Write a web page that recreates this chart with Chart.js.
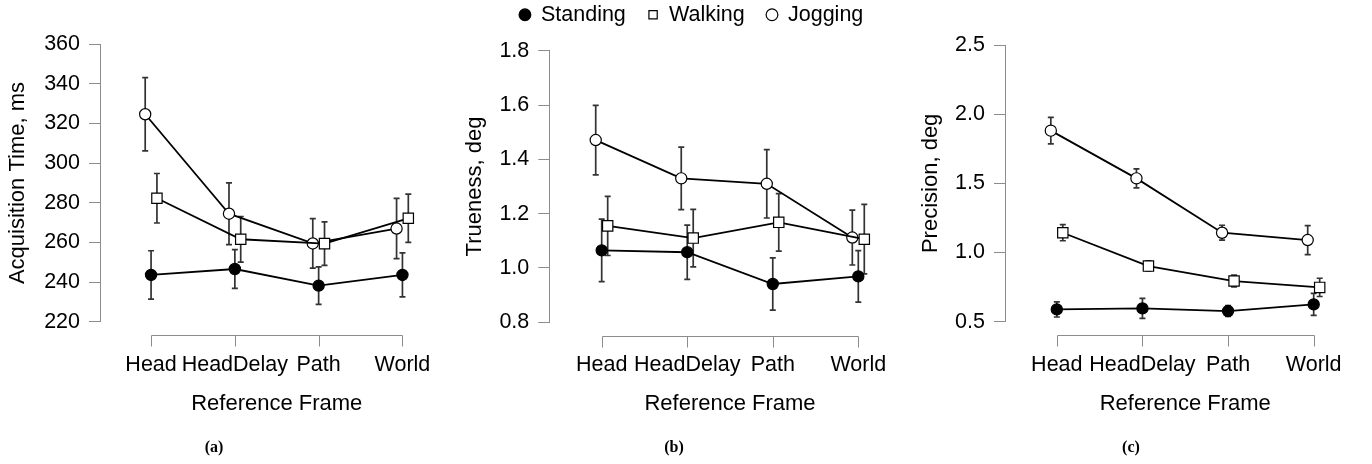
<!DOCTYPE html>
<html>
<head>
<meta charset="utf-8">
<script src="https://cdn.jsdelivr.net/npm/chart.js@4.4.1/dist/chart.umd.min.js"></script>
<style>
  html, body { margin: 0; padding: 0; background: #fff; width: 1372px; height: 464px; overflow: hidden; position: relative; }
  canvas { position: absolute; }
  .cap { position: absolute; top: 447px; transform: translate(-50%, -50%); font: bold 16px "Liberation Serif", "DejaVu Serif", serif; color: #000; }
</style>
</head>
<body>
<canvas id="chartA" width="462" height="464" style="left:0px;top:0px"></canvas>
<canvas id="chartB" width="470" height="482" style="left:457px;top:-18px"></canvas>
<canvas id="chartC" width="460" height="464" style="left:914px;top:0px"></canvas>
<div class="cap" style="left:214px">(a)</div>
<div class="cap" style="left:674px">(b)</div>
<div class="cap" style="left:1131px">(c)</div>
<script>
// categories and series
const frames = ['Head', 'HeadDelay', 'Path', 'World'];
const seriesNames = ['Standing', 'Walking', 'Jogging'];

// (a) acquisition time, ms
const standingA = [243.6, 246.6, 238.2, 243.6];
const walkingA = [282.3, 261.6, 259.4, 272.2];
const joggingA = [324.7, 274.5, 259.5, 267.0];
const standingErrA = [12.2, 9.8, 9.5, 11.1];
const walkingErrA = [12.5, 11.5, 11.0, 12.2];
const joggingErrA = [18.5, 15.6, 12.5, 15.2];
const yTicksA = [220, 240, 260, 280, 300, 320, 340, 360];

// (b) trueness, deg
const standingB = [1.065, 1.058, 0.941, 0.969];
const walkingB = [1.155, 1.110, 1.168, 1.106];
const joggingB = [1.471, 1.330, 1.310, 1.112];
const standingErrB = [0.115, 0.100, 0.096, 0.095];
const walkingErrB = [0.109, 0.106, 0.106, 0.128];
const joggingErrB = [0.128, 0.115, 0.126, 0.101];
const yTicksB = [0.8, 1.0, 1.2, 1.4, 1.6, 1.8];

// (c) precision, deg
const standingC = [0.589, 0.596, 0.577, 0.625];
const walkingC = [1.143, 0.902, 0.794, 0.748];
const joggingC = [1.881, 1.536, 1.143, 1.090];
const standingErrC = [0.055, 0.072, 0.039, 0.080];
const walkingErrC = [0.058, 0.037, 0.042, 0.066];
const joggingErrC = [0.096, 0.068, 0.054, 0.105];
const yTicksC = [0.5, 1.0, 1.5, 2.0, 2.5];

const FONT = '"Liberation Sans", Arial, sans-serif';
const AXIS = '#8c8c8c';
// horizontal dodge of the three series around each frame
const dodge = [0, 0.07, -0.07];
const marks = [
  { style: 'circle', fill: '#000', r: 5.6 },
  { style: 'rect', fill: '#fff', r: 7.3 },
  { style: 'circle', fill: '#fff', r: 5.6 }
];

const errorBars = {
  id: 'errorBars',
  beforeDatasetsDraw(chart) {
    const { ctx, scales: { x, y } } = chart;
    ctx.save();
    ctx.strokeStyle = '#333';
    ctx.lineWidth = 1.7;
    chart.data.datasets.forEach(ds => {
      ds.data.forEach((pt, i) => {
        const px = x.getPixelForValue(pt.x);
        const top = y.getPixelForValue(pt.y + ds.err[i]);
        const bot = y.getPixelForValue(pt.y - ds.err[i]);
        ctx.beginPath();
        ctx.moveTo(px, top); ctx.lineTo(px, bot);
        ctx.moveTo(px - 3, top); ctx.lineTo(px + 3, top);
        ctx.moveTo(px - 3, bot); ctx.lineTo(px + 3, bot);
        ctx.stroke();
      });
    });
    ctx.restore();
  }
};

// x axis drawn detached below the plot, spanning first to last frame
const xAxisLine = {
  id: 'xAxisLine',
  afterDraw(chart, args, opts) {
    const { ctx, scales: { x } } = chart;
    const y0 = Math.round(opts.y) + 0.5;
    const px = v => Math.round(x.getPixelForValue(v)) + 0.5;
    ctx.save();
    ctx.strokeStyle = AXIS;
    ctx.lineWidth = 1;
    ctx.beginPath();
    ctx.moveTo(px(1), y0);
    ctx.lineTo(px(frames.length), y0);
    x.ticks.forEach(t => {
      ctx.moveTo(px(t.value), y0);
      ctx.lineTo(px(t.value), y0 + 11);
    });
    ctx.stroke();
    ctx.restore();
  }
};

function panel(id, values, errs, yTicks, dec, yTitle, g) {
  const unit = (g.worldX - g.headX) / (frames.length - 1);
  const xmin = 1 - (g.headX - g.left) / unit;
  const xmax = frames.length + (g.right - g.worldX) / unit;
  const datasets = values.map((vals, s) => ({
    label: seriesNames[s],
    data: vals.map((v, i) => ({ x: i + 1 + dodge[s], y: v })),
    err: errs[s],
    borderColor: '#000',
    borderWidth: 1.8,
    pointStyle: marks[s].style,
    pointRadius: marks[s].r,
    pointBackgroundColor: marks[s].fill,
    pointBorderColor: '#000',
    pointBorderWidth: 1.2,
    clip: false
  }));
  return new Chart(document.getElementById(id), {
    type: 'line',
    data: { datasets },
    plugins: [errorBars, xAxisLine],
    options: {
      responsive: false,
      animation: false,
      devicePixelRatio: 1,
      layout: { padding: { left: g.padL, right: g.canvasW - g.right, top: g.padTop, bottom: g.padBottom } },
      plugins: {
        tooltip: { enabled: false },
        xAxisLine: { y: g.xLineY },
        legend: {
          display: !!g.legend,
          position: 'top',
          labels: {
            usePointStyle: true,
            boxWidth: 10.5,
            boxHeight: 8.3,
            padding: 22,
            color: '#000',
            font: { family: FONT, size: 21.5 }
          }
        },
        title: {
          display: !!g.legend,
          text: '',
          weight: 500,
          padding: 0,
          font: { size: g.gap || 10, lineHeight: 1 }
        }
      },
      scales: {
        x: {
          type: 'linear',
          min: xmin,
          max: xmax,
          afterBuildTicks: s => { s.ticks = frames.map((f, i) => ({ value: i + 1 })); },
          afterFit: s => { s.height = g.xScaleH; },
          grid: { display: false },
          border: { display: false },
          ticks: {
            autoSkip: false, maxRotation: 0, minRotation: 0,
            padding: g.xLabelPad,
            color: '#000',
            font: { family: FONT, size: 21.5 },
            callback: v => frames[Math.round(v) - 1]
          },
          title: { display: true, text: 'Reference Frame', color: '#000', font: { family: FONT, size: 22 }, padding: 0 }
        },
        y: {
          type: 'linear',
          min: yTicks[0],
          max: yTicks[yTicks.length - 1],
          afterBuildTicks: s => { s.ticks = yTicks.map(v => ({ value: v })); },
          afterFit: s => { s.width = g.yScaleW; },
          grid: { display: true, drawOnChartArea: false, drawTicks: true, tickLength: 11, color: AXIS, lineWidth: 1 },
          border: { display: true, color: AXIS, width: 1 },
          ticks: {
            padding: 9,
            color: '#000',
            font: { family: FONT, size: 21.5 },
            callback: v => v.toFixed(dec)
          },
          title: { display: true, text: yTitle, color: '#000', font: { family: FONT, size: 22 }, padding: { top: g.yTitlePad, bottom: 0 } }
        }
      }
    }
  });
}

panel('chartA', [standingA, walkingA, joggingA], [standingErrA, walkingErrA, joggingErrA], yTicksA, 0,
  'Acquisition Time, ms',
  { canvasW: 462, padL: 4.8, yScaleW: 95.2, yTitlePad: 0, left: 100, right: 460, headX: 152, worldX: 408,
    padTop: 44.3, padBottom: 46.8, xScaleH: 95.5, xLabelPad: 22.9, xLineY: 335 });

panel('chartB', [standingB, walkingB, joggingB], [standingErrB, walkingErrB, joggingErrB], yTicksB, 1,
  'Trueness, deg',
  { canvasW: 470, padL: 15.3, yScaleW: 77, yTitlePad: -10.5, left: 92.3, right: 453.7, headX: 144.7, worldX: 401.3,
    padTop: 0, padBottom: 46.8, xScaleH: 94.9, xLabelPad: 22.3, xLineY: 354, legend: true, gap: 15.2 });

panel('chartC', [standingC, walkingC, joggingC], [standingErrC, walkingErrC, joggingErrC], yTicksC, 1,
  'Precision, deg',
  { canvasW: 460, padL: 3.5, yScaleW: 87.5, yTitlePad: 0, left: 91, right: 457.7, headX: 143.7, worldX: 405,
    padTop: 45, padBottom: 46.8, xScaleH: 95.5, xLabelPad: 22.9, xLineY: 335 });
</script>
</body>
</html>
